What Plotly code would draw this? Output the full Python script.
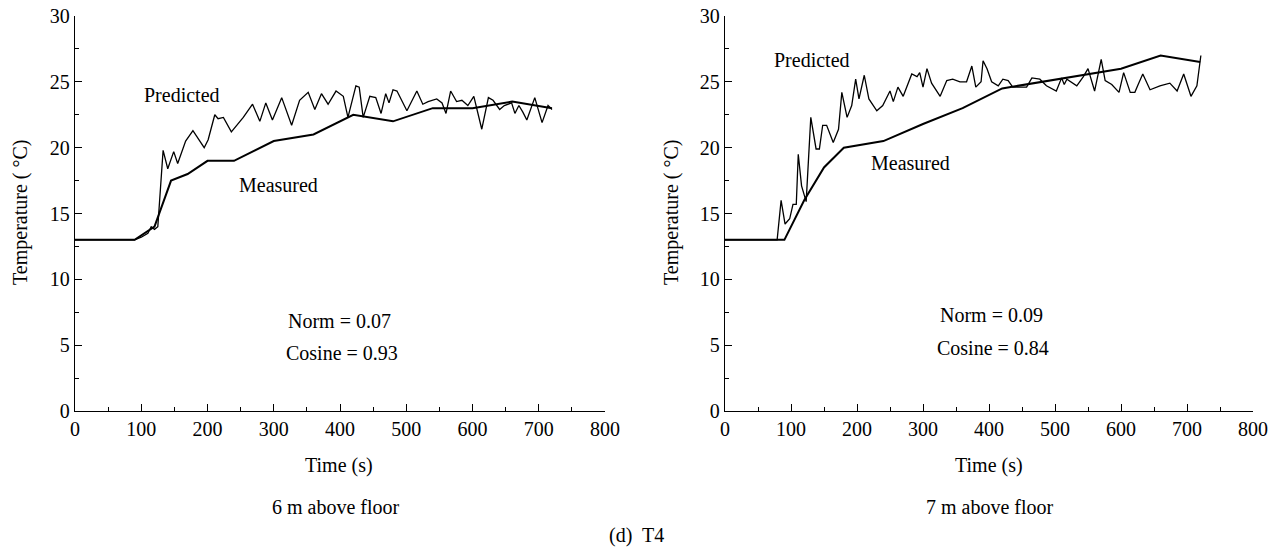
import plotly.graph_objects as go

# ---------- data ----------
meas6_t = [0, 90, 120, 145, 170, 200, 240, 300, 360, 420, 480, 540, 600, 660, 720]
meas6_T = [13, 13, 14, 17.5, 18, 19, 19, 20.5, 21, 22.5, 22, 23, 23, 23.5, 23]

pred6_t = [0, 90, 100, 110, 115, 120, 125, 133, 140, 149, 155, 167, 178, 195, 201, 211, 216,
           224, 236, 254, 268, 279, 288, 298, 312, 327, 339, 352, 362, 372, 382, 394, 405,
           412, 424, 429, 435, 445, 454, 462, 469, 474, 480, 486, 501, 516, 525, 533, 546,
           554, 560, 567, 576, 584, 593, 602, 614, 624, 631, 641, 648, 659, 664, 670, 676,
           682, 694, 705, 714, 720]
pred6_T = [13, 13, 13.2, 13.5, 14.0, 13.8, 14.0, 19.8, 18.4, 19.7, 18.8, 20.5, 21.3, 20.0, 20.6,
           22.5, 22.2, 22.3, 21.2, 22.3, 23.3, 22.0, 23.4, 22.1, 23.8, 21.7, 23.6, 24.2, 22.9,
           24.1, 23.3, 24.3, 23.9, 22.3, 24.7, 24.6, 22.3, 23.9, 23.8, 22.6, 24.1, 23.4, 24.4,
           24.3, 22.8, 24.3, 23.3, 23.5, 23.7, 23.4, 22.6, 24.3, 23.5, 23.6, 23.2, 23.9, 21.4,
           23.8, 23.6, 22.9, 23.2, 23.4, 22.6, 23.2, 22.7, 22.1, 23.8, 21.9, 23.2, 22.9]

meas7_t = [0, 90, 120, 150, 180, 240, 300, 360, 420, 480, 540, 600, 660, 720]
meas7_T = [13, 13, 16, 18.5, 20, 20.5, 21.8, 23, 24.5, 25, 25.5, 26, 27, 26.5]

pred7_t = [0, 79, 85, 91, 98, 103, 108, 111, 116, 123, 130, 138, 143, 148, 154, 164, 172, 177,
           185, 192, 198, 203, 211, 218, 230, 239, 250, 255, 262, 270, 283, 291, 295, 300, 306,
           313, 326, 336, 345, 356, 366, 374, 380, 388, 391, 397, 404, 414, 421, 429, 436, 457,
           465, 477, 487, 502, 510, 514, 518, 533, 543, 550, 560, 570, 576, 586, 597, 604, 614,
           621, 626, 633, 644, 659, 674, 685, 695, 706, 715, 721]
pred7_T = [13, 13, 16.0, 14.2, 14.6, 15.7, 15.7, 19.5, 17.1, 15.9, 22.3, 19.9, 19.9, 21.7, 21.7,
           20.4, 21.4, 24.2, 22.3, 23.2, 25.2, 23.7, 25.5, 23.7, 22.8, 23.2, 24.3, 23.5, 24.6,
           23.9, 25.6, 25.4, 25.7, 24.6, 26.0, 24.9, 23.9, 25.1, 25.2, 25.0, 25.0, 26.2, 24.6,
           25.0, 26.6, 26.0, 25.0, 24.7, 25.2, 25.1, 24.6, 24.6, 25.3, 25.2, 24.7, 24.3, 25.3,
           24.8, 25.2, 24.7, 25.4, 26.0, 24.3, 26.7, 25.1, 24.8, 24.2, 25.7, 24.2, 24.2, 24.8,
           25.6, 24.4, 24.7, 24.9, 24.3, 25.6, 23.9, 24.7, 27.0]

# ---------- figure ----------
W, H = 1276, 554
FONT = "Liberation Serif, DejaVu Serif, serif"
FS = 20

fig = go.Figure()
fig.add_trace(go.Scatter(x=pred6_t, y=pred6_T, mode="lines", line=dict(color="black", width=1.3),
                         xaxis="x", yaxis="y", showlegend=False))
fig.add_trace(go.Scatter(x=meas6_t, y=meas6_T, mode="lines", line=dict(color="black", width=2),
                         xaxis="x", yaxis="y", showlegend=False))
fig.add_trace(go.Scatter(x=pred7_t, y=pred7_T, mode="lines", line=dict(color="black", width=1.3),
                         xaxis="x2", yaxis="y2", showlegend=False))
fig.add_trace(go.Scatter(x=meas7_t, y=meas7_T, mode="lines", line=dict(color="black", width=2),
                         xaxis="x2", yaxis="y2", showlegend=False))

def px(x):
    return x / W

def py(y):
    return 1 - y / H

ydom = [py(411), py(16)]
xcommon = dict(range=[0, 800], dtick=100, tick0=0, showline=True, linecolor="black", linewidth=1.3,
               ticks="inside", ticklen=7, tickwidth=1.3, tickcolor="black", showgrid=False,
               zeroline=False, automargin=False, tickfont=dict(family=FONT, size=FS, color="black"),
               minor=dict(ticks="inside", ticklen=4, tickwidth=1.2, tickcolor="black", dtick=50, showgrid=False))
ycommon = dict(range=[0, 30], dtick=5, tick0=0, showline=True, linecolor="black", linewidth=1.3,
               ticks="inside", ticklen=7, tickwidth=1.3, tickcolor="black", showgrid=False,
               zeroline=False, automargin=False, tickfont=dict(family=FONT, size=FS, color="black"),
               minor=dict(ticks="inside", ticklen=4, tickwidth=1.2, tickcolor="black", dtick=2.5, showgrid=False))

fig.update_layout(
    width=W, height=H,
    margin=dict(l=0, r=0, t=0, b=0, autoexpand=False),
    paper_bgcolor="white", plot_bgcolor="white",
    xaxis=dict(domain=[px(75), px(605)], anchor="y", **xcommon),
    yaxis=dict(domain=ydom, anchor="x", **ycommon),
    xaxis2=dict(domain=[px(725), px(1253)], anchor="y2", **xcommon),
    yaxis2=dict(domain=ydom, anchor="x2", **ycommon),
    font=dict(family=FONT, color="black"),
    hovermode=False,
)

def ann(x, y, text, size=FS, angle=0):
    fig.add_annotation(x=px(x), y=py(y), xref="paper", yref="paper", text=text, showarrow=False,
                       font=dict(family=FONT, size=size, color="black"), textangle=angle,
                       xanchor="center", yanchor="middle")

# left panel texts
ann(182, 95, "Predicted")
ann(278, 185, "Measured")
ann(339, 321, "Norm = 0.07")
ann(342, 353, "Cosine = 0.93")
ann(339, 465, "Time (s)")
ann(336, 507, "6 m above floor")
ann(20, 213, "Temperature ( °C)", angle=-90)

# right panel texts
ann(812, 60, "Predicted")
ann(910, 163, "Measured")
ann(992, 315, "Norm = 0.09")
ann(993, 348, "Cosine = 0.84")
ann(989, 465, "Time (s)")
ann(990, 507, "7 m above floor")
ann(671, 213, "Temperature ( °C)", angle=-90)

ann(636, 535, "(d)  T4")

fig.write_html("out.html", config={"displayModeBar": False},
               post_script="document.body.style.margin='0';")
